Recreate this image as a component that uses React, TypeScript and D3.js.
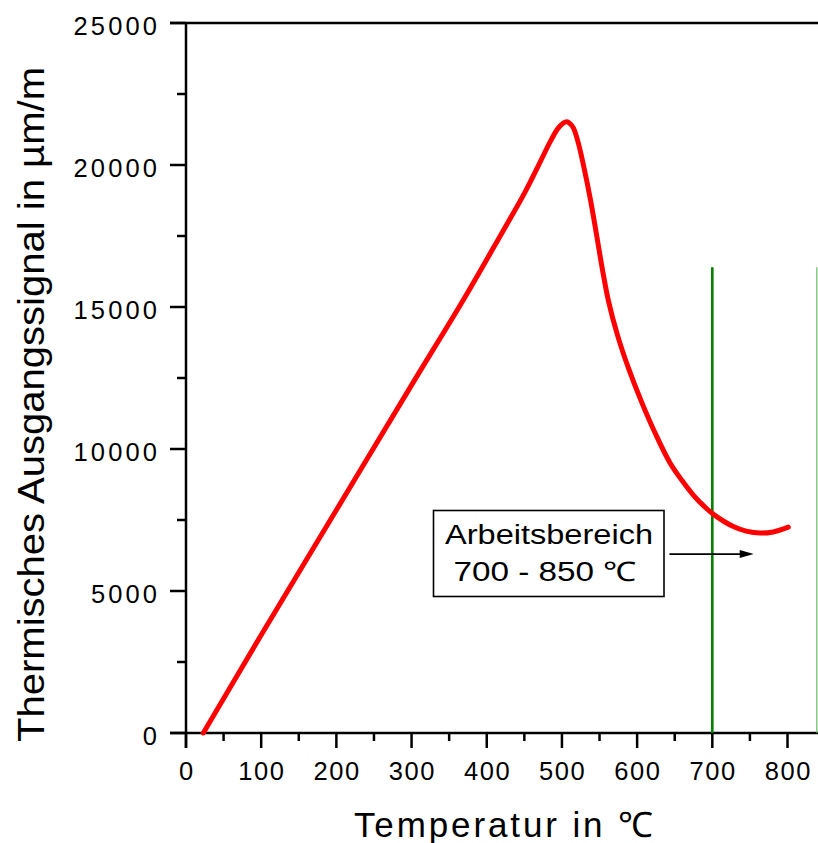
import React from 'react';
import * as d3 from 'd3';

// temperature in °C and thermal output signal in µm/m
const temps = [23, 100, 200, 300, 370, 420, 450, 470, 485, 496, 506, 514, 521, 529, 538, 546, 554, 562, 574, 588, 606, 625, 644, 660, 675, 690, 702, 728, 745, 764, 781, 801];
const signal = [0, 3450, 7850, 12250, 15300, 17600, 19000, 20050, 20850, 21330, 21520, 21360, 20850, 19950, 18770, 17550, 16300, 15200, 14000, 12880, 11650, 10500, 9500, 8880, 8370, 7960, 7690, 7270, 7110, 7040, 7080, 7250];

const xTicks = [0, 100, 200, 300, 400, 500, 600, 700, 800];
const xMinor = [50, 150, 250, 350, 450, 550, 650, 750];
const yTicks = [0, 5000, 10000, 15000, 20000, 25000];
const yMinor = [2500, 7500, 12500, 17500, 22500];

const rangeStart = 700;
const rangeEdge = 839;
const rangeTop = 16400;
const boxLines = ['Arbeitsbereich', '700 - 850 ℃'];
const arrowFrom = [643, 6300];
const arrowTo = [755, 6300];

const App = () => {
  const W = 818;
  const H = 843;
  const x = d3.scaleLinear().domain([0, 800]).range([186, 787.5]);
  const y = d3.scaleLinear().domain([0, 25000]).range([733, 23]);

  const pts = temps.map((t, i) => [t, signal[i]] as [number, number]);
  const line = d3.line<[number, number]>()
    .x(d => x(d[0]))
    .y(d => y(d[1]))
    .curve(d3.curveCatmullRom.alpha(0.5));

  const font = "'Liberation Sans', Arial, Helvetica, sans-serif";
  const ax = '#000';
  const sw = 2.5;

  const ax0 = x(arrowFrom[0]);
  const ax1 = x(arrowTo[0]);
  const ay = y(arrowFrom[1]);

  return (
    <svg width={W} height={H} style={{ position: 'absolute', left: 0, top: 0, background: '#fff' }}>
      <rect x={0} y={0} width={W} height={H} fill="#fff" />

      {/* frame: top line and axes */}
      <line x1={170} x2={W} y1={y(25000)} y2={y(25000)} stroke={ax} strokeWidth={sw} />
      <line x1={170} x2={W} y1={y(0)} y2={y(0)} stroke={ax} strokeWidth={sw} />
      <line x1={x(0)} x2={x(0)} y1={y(25000)} y2={748} stroke={ax} strokeWidth={sw} />

      {yTicks.map(t => (
        <g key={'y' + t}>
          <line x1={170} x2={x(0)} y1={y(t)} y2={y(t)} stroke={ax} strokeWidth={sw} />
          <text x={157} y={y(t) + 11.5} textAnchor="end" fontFamily={font} fontSize={25.5}
            textLength={String(t).length > 1 ? String(t).length * 17.4 - 3.5 : undefined} lengthAdjust="spacing">{t}</text>
        </g>
      ))}
      {yMinor.map(t => (
        <line key={'ym' + t} x1={177} x2={x(0)} y1={y(t)} y2={y(t)} stroke={ax} strokeWidth={sw} />
      ))}

      {xTicks.map(t => (
        <g key={'x' + t}>
          <line x1={x(t)} x2={x(t)} y1={y(0)} y2={748} stroke={ax} strokeWidth={sw} />
          <text x={x(t)} y={780} textAnchor="middle" fontFamily={font} fontSize={25.5}
            textLength={String(t).length > 1 ? String(t).length * 15.9 - 2 : undefined} lengthAdjust="spacing">{t}</text>
        </g>
      ))}
      {xMinor.map(t => (
        <line key={'xm' + t} x1={x(t)} x2={x(t)} y1={y(0)} y2={741} stroke={ax} strokeWidth={sw} />
      ))}

      {/* working range markers */}
      <line x1={x(rangeStart)} x2={x(rangeStart)} y1={y(rangeTop)} y2={y(0)} stroke="#008000" strokeWidth={2.6} />
      <line x1={x(rangeEdge)} x2={x(rangeEdge)} y1={y(rangeTop)} y2={y(0)} stroke="#6cb86c" strokeWidth={1.2} />

      {/* data curve */}
      <path d={line(pts) || ''} fill="none" stroke="#ff0000" strokeWidth={5} strokeLinecap="round" strokeLinejoin="round" />

      {/* annotation */}
      <rect x={433.5} y={510.5} width={230.5} height={86} fill="#fff" stroke={ax} strokeWidth={1.6} />
      <text x={549} y={544} textAnchor="middle" fontFamily={font} fontSize={27}
        textLength={208} lengthAdjust="spacingAndGlyphs">{boxLines[0]}</text>
      <text x={545} y={581} textAnchor="middle" fontFamily={font} fontSize={27}
        textLength={183} lengthAdjust="spacingAndGlyphs">{boxLines[1]}</text>
      <line x1={ax0} x2={ax1 - 12} y1={ay} y2={ay} stroke={ax} strokeWidth={1.6} />
      <path d={`M${ax1},${ay} L${ax1 - 14},${ay - 4} L${ax1 - 14},${ay + 4} Z`} fill={ax} />

      {/* axis titles */}
      <text x={503.5} y={837} textAnchor="middle" fontFamily={font} fontSize={35}
        textLength={299} lengthAdjust="spacing">Temperatur in ℃</text>
      <text transform="translate(44,404.5) rotate(-90)" textAnchor="middle"
        fontFamily="'Liberation Sans Narrow', 'Arial Narrow', 'Liberation Sans', sans-serif" fontSize={37}
        textLength={675} lengthAdjust="spacingAndGlyphs">Thermisches Ausgangssignal in µm/m</text>
    </svg>
  );
};

export default App;
